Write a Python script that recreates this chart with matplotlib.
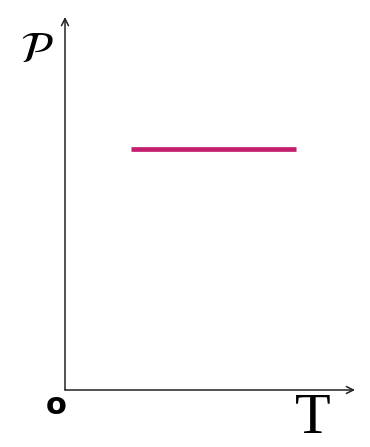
import matplotlib
matplotlib.use("Agg")
import matplotlib.pyplot as plt

# constant pressure over a temperature range
temps = [1.0, 3.5]
pressure = [0.645, 0.645]

fig = plt.figure(figsize=(3.70, 4.47), dpi=100)
# axes placed so the origin sits at about (65, 390) px
ax = fig.add_axes([65 / 370, 57 / 447, 290 / 370, 373 / 447])
ax.set_xlim(0, 4.4)
ax.set_ylim(0, 1)
ax.axis("off")

ax.plot(temps, pressure, color="#C41E6E", linewidth=3.4, solid_capstyle="butt")

arrow = dict(arrowstyle="->,head_length=0.5,head_width=0.25", color="#222222", lw=1.1,
             shrinkA=0, shrinkB=0)
ax.annotate("", xy=(1, 0), xytext=(0, 0), xycoords="axes fraction", arrowprops=arrow)
ax.annotate("", xy=(0, 1), xytext=(0, 0), xycoords="axes fraction", arrowprops=arrow)

fig.text(37 / 370, 1 - 50 / 447, r"$\mathcal{P}$", fontsize=32, ha="center", va="center",
         math_fontfamily="stix")
fig.text(56 / 370, 1 - 406 / 447, "o", fontsize=22, fontweight="bold", ha="center",
         va="center", family="DejaVu Sans")
fig.text(313 / 370, 1 - 419 / 447, "T", fontsize=42, ha="center", va="center",
         family="Liberation Serif")

fig.savefig("out.png", dpi=100, facecolor="white")
